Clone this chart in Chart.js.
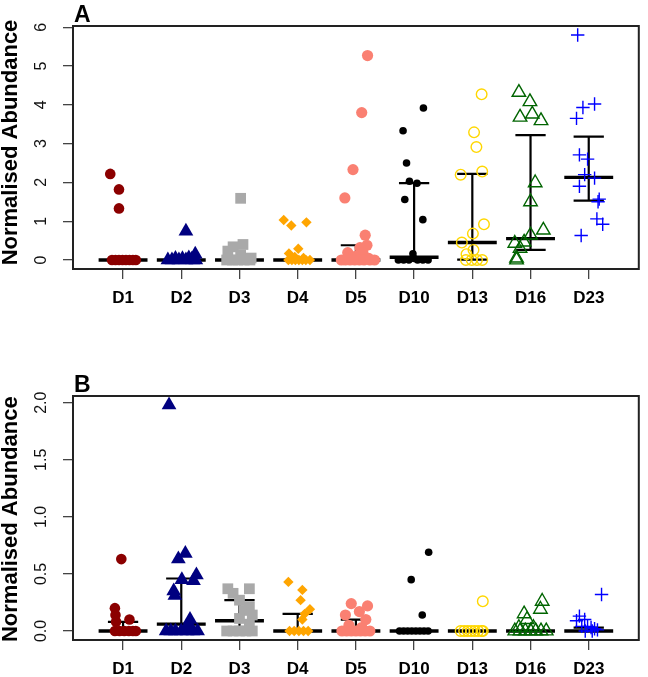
<!DOCTYPE html>
<html>
<head>
<meta charset="utf-8">
<title>Normalised Abundance</title>
<script src="https://cdn.jsdelivr.net/npm/chart.js@4.4.1/dist/chart.umd.min.js"></script>
<style>
body{margin:0;background:#fff;}
canvas{position:absolute;left:0;}
#chartA{top:0;}
#chartB{top:338px;}
</style>
</head>
<body>
<canvas id="chartA" width="648" height="338"></canvas>
<canvas id="chartB" width="648" height="339"></canvas>
<script>
// days on the x axis
const days = ['D1','D2','D3','D4','D5','D10','D13','D16','D23'];

// y tick labels
const yTicksA = [0, 1, 2, 3, 4, 5, 6];
const yTicksB = [0, 0.5, 1, 1.5, 2];

// panel A values (and horizontal jitter, in category units)
const aD1  = [2.22, 1.82, 1.33, 0, 0, 0, 0, 0, 0, 0, 0];
const aD1j = [-0.22, -0.07, -0.07, -0.19, -0.13, -0.07, -0.01, 0.05, 0.11, 0.17, 0.22];
const aD2  = [0.74, 0.15, 0.05, 0.04, 0.03, 0.02, 0, 0, 0, 0, 0, 0];
const aD2j = [0.08, 0.24, 0.13, -0.1, 0.02, 0.18, -0.23, -0.16, -0.04, 0.08, 0.2, 0.25];
const aD3  = [1.59, 0.40, 0.34, 0.23, 0.13, 0.05, 0, 0, 0, 0, 0];
const aD3j = [0.02, 0.06, -0.11, -0.2, 0.02, 0.2, -0.22, -0.12, -0.03, 0.08, 0.18];
const aD4  = [1.03, 0.89, 0.97, 0.29, 0.17, 0.08, 0.05, 0, 0, 0, 0, 0, 0, 0];
const aD4j = [-0.24, -0.11, 0.15, 0.01, -0.15, -0.05, 0.1, -0.16, -0.1, -0.04, 0.02, 0.08, 0.14, 0.21];
const aD5  = [5.27, 3.8, 2.33, 1.6, 0.64, 0.38, 0.32, 0.19, 0.19, 0.1, 0.06, 0.04, 0, 0, 0, 0, 0, 0, 0, 0];
const aD5j = [0.2, 0.1, -0.05, -0.19, 0.16, 0.19, 0.07, -0.14, 0.12, 0.0, -0.08, 0.22, -0.25, -0.18, -0.1, -0.02, 0.06, 0.14, 0.24, 0.32];
const aD10  = [3.92, 3.33, 2.5, 2.03, 1.98, 1.56, 1.04, 0.16, 0.04, 0, 0, 0, 0, 0, 0];
const aD10j = [0.16, -0.19, -0.13, -0.08, 0.05, -0.16, 0.15, -0.02, 0.0, -0.27, -0.18, -0.09, 0.06, 0.15, 0.24];
const aD13  = [4.27, 3.29, 2.91, 2.2, 2.28, 0.92, 0.68, 0.45, 0.26, 0.15, 0, 0, 0, 0];
const aD13j = [0.16, 0.03, 0.07, -0.2, 0.17, 0.2, 0.01, -0.18, 0.02, -0.1, -0.11, -0.01, 0.08, 0.17];
const aD16  = [4.32, 4.08, 3.68, 3.76, 3.59, 1.99, 1.5, 0.77, 0.64, 0.46, 0.43, 0.3, 0.05, 0];
const aD16j = [-0.2, -0.01, -0.18, 0.03, 0.18, 0.08, 0, 0.22, 0, -0.11, -0.27, -0.18, -0.24, -0.24];
const aD23  = [5.8, 4.02, 3.93, 3.65, 2.71, 2.6, 2.2, 2.11, 1.9, 1.57, 1.5, 1.06, 0.92, 0.63];
const aD23j = [-0.19, 0.1, -0.1, -0.21, -0.16, -0.02, -0.07, 0.1, -0.16, 0.18, 0.16, 0.14, 0.24, -0.13];

// panel A median and interquartile range
const medA = [0, 0, 0, 0, 0, 0.07, 0.45, 0.55, 2.13];
const q1A  = [0, 0, 0, 0, 0, 0, 0.01, 0.26, 1.53];
const q3A  = [0, 0, 0, 0, 0.38, 1.98, 2.22, 3.22, 3.18];

// panel B values
const bD1  = [0.63, 0.2, 0.14, 0.1, 0.08, 0, 0, 0, 0, 0, 0];
const bD1j = [-0.03, -0.14, -0.13, 0.11, -0.12, -0.14, -0.06, 0.02, 0.1, 0.17, 0.22];
const bD2  = [1.98, 0.68, 0.63, 0.49, 0.45, 0.44, 0.35, 0.31, 0.1, 0.06, 0, 0, 0, 0, 0, 0, 0];
const bD2j = [-0.21, 0.07, -0.05, 0.26, 0.01, 0.21, -0.13, -0.11, 0.15, 0.12, -0.26, -0.18, -0.1, 0.0, 0.1, 0.2, 0.28];
const bD3  = [0.37, 0.37, 0.33, 0.27, 0.21, 0.18, 0.14, 0.11, 0.06, 0, 0, 0, 0, 0];
const bD3j = [0.17, -0.2, -0.11, 0, 0.17, 0.08, 0.22, 0, 0.17, -0.22, -0.11, 0, 0.11, 0.22];
const bD4  = [0.43, 0.36, 0.27, 0.19, 0.15, 0.1, 0, 0, 0, 0, 0];
const bD4j = [-0.16, 0.08, 0.05, 0.21, 0.12, 0.08, -0.14, -0.06, 0.02, 0.1, 0.18];
const bD5  = [0.24, 0.22, 0.17, 0.14, 0.1, 0.05, 0.03, 0, 0, 0, 0, 0, 0, 0];
const bD5j = [-0.08, 0.2, 0.06, -0.18, 0.17, -0.12, 0.1, -0.24, -0.16, -0.08, 0.0, 0.08, 0.16, 0.24];
const bD10  = [0.69, 0.45, 0.14, 0, 0, 0, 0, 0, 0, 0, 0];
const bD10j = [0.25, -0.05, 0.14, -0.25, -0.18, -0.11, -0.04, 0.03, 0.1, 0.17, 0.24];
const bD13  = [0.26, 0, 0, 0, 0, 0, 0, 0, 0];
const bD13j = [0.18, -0.2, -0.14, -0.08, -0.02, 0.04, 0.1, 0.16, 0.18];
const bD16  = [0.26, 0.19, 0.15, 0.1, 0.03, 0.03, 0, 0, 0, 0, 0, 0, 0];
const bD16j = [0.2, 0.17, -0.11, -0.06, -0.2, 0.05, -0.27, -0.18, -0.09, 0.0, 0.09, 0.18, 0.27];
const bD23  = [0.32, 0.13, 0.1, 0.09, 0.04, 0.04, 0.03, 0.02, 0.01, 0, 0];
const bD23j = [0.22, -0.16, -0.07, -0.21, -0.12, -0.02, 0.04, 0.1, 0.15, -0.06, 0.06];

// panel B median and interquartile range
const medB = [0, 0.06, 0.09, 0, 0, 0, 0, 0, 0];
const q1B  = [0, 0, 0, 0, 0, 0, 0, 0, 0];
const q3B  = [0.08, 0.46, 0.27, 0.15, 0.1, 0, 0, 0, 0.03];

// marker look per day
const marks = [
  {style:'circle',   r:5.3, color:'#8B0000', filled:true},
  {style:'triangle', r:8.5, color:'#000080', filled:true},
  {style:'rect',     r:7.6, color:'#A9A9A9', filled:true},
  {style:'rectRot',  r:5.2, color:'#FFA500', filled:true},
  {style:'circle',   r:5.6, color:'#FA8072', filled:true},
  {style:'circle',   r:3.8, color:'#000000', filled:true},
  {style:'circle',   r:5.3, color:'#FFD700', filled:false},
  {style:'triangle', r:7.8, color:'#006400', filled:false},
  {style:'cross',    r:6.7, color:'#0000FF', filled:false}
];

Chart.defaults.font.family = '"Liberation Sans", Arial, sans-serif';

const MED_HALF = 0.42, Q_HALF = 0.26;

function segs(list){
  // list of [x1,y1,x2,y2] -> data with gaps
  const out = [];
  list.forEach(s => {
    out.push({x:s[0], y:s[1]}, {x:s[2], y:s[3]}, {x:s[2], y:null});
  });
  return out;
}

function lineSet(data, width){
  return {
    type:'scatter', data:data, showLine:true, spanGaps:false,
    borderColor:'#000', borderWidth:width, pointRadius:0,
    order:5, clip:false
  };
}

const textPlugin = {
  id:'panelText',
  afterDraw(chart, args, opts){
    const ctx = chart.ctx, a = chart.chartArea, ys = chart.scales.y;
    ctx.save();
    ctx.strokeStyle = '#222';
    ctx.lineWidth = 2;
    ctx.strokeRect(a.left, a.top, a.right - a.left, a.bottom - a.top);
    // rotated y tick labels
    ctx.fillStyle = '#111';
    ctx.font = '16px "Liberation Sans", Arial, sans-serif';
    ctx.textAlign = 'center';
    ctx.textBaseline = 'middle';
    opts.ticks.forEach(v => {
      ctx.save();
      ctx.translate(42, ys.getPixelForValue(v));
      ctx.rotate(-Math.PI / 2);
      ctx.fillText(opts.fmt(v), 0, 0);
      ctx.restore();
    });
    // y title
    ctx.save();
    ctx.font = 'bold 22px "Liberation Sans", Arial, sans-serif';
    ctx.fillStyle = '#000';
    ctx.translate(11, opts.titleY);
    ctx.rotate(-Math.PI / 2);
    ctx.fillText('Normalised Abundance', 0, 0);
    ctx.restore();
    // panel letter
    ctx.font = 'bold 23px "Liberation Sans", Arial, sans-serif';
    ctx.textAlign = 'left';
    ctx.textBaseline = 'alphabetic';
    ctx.fillStyle = '#000';
    ctx.fillText(opts.letter, 74, opts.letterY);
    ctx.restore();
  }
};

function makePanel(id, letter, groups, jitters, med, q1, q3, yMin, yMax, yTicks, fmt, padTop, xHeight, titleY, letterY){
  const datasets = [];
  const medSegs = [], qSegs = [], vSegs = [];
  days.forEach((d, i) => {
    const c = i + 1;
    medSegs.push([c - MED_HALF, med[i], c + MED_HALF, med[i]]);
    qSegs.push([c - Q_HALF, q1[i], c + Q_HALF, q1[i]]);
    qSegs.push([c - Q_HALF, q3[i], c + Q_HALF, q3[i]]);
    vSegs.push([c, q1[i], c, q3[i]]);
  });
  datasets.push(lineSet(segs(vSegs), 2.2));
  datasets.push(lineSet(segs(qSegs), 2.2));
  datasets.push(lineSet(segs(medSegs), 3.4));

  groups.forEach((vals, i) => {
    const m = marks[i];
    datasets.push({
      type:'scatter',
      label:days[i],
      data: vals.map((v, k) => ({x: i + 1 + jitters[i][k], y: v})),
      pointStyle: m.style,
      pointRadius: m.r,
      backgroundColor: m.filled ? m.color : 'rgba(0,0,0,0)',
      borderColor: m.color,
      borderWidth: m.filled ? 0 : 1.4,
      order:1,
      clip:false
    });
  });

  return new Chart(document.getElementById(id), {
    type:'scatter',
    data:{datasets:datasets},
    plugins:[textPlugin],
    options:{
      responsive:false,
      animation:false,
      events:[],
      layout:{padding:{top:padTop, right:1.3, left:0, bottom:0}},
      plugins:{
        legend:{display:false},
        tooltip:{enabled:false},
        panelText:{letter:letter, ticks:yTicks, fmt:fmt, titleY:titleY, letterY:letterY}
      },
      scales:{
        x:{
          type:'linear', min:0.14, max:9.86,
          afterBuildTicks: s => { s.ticks = days.map((d, i) => ({value: i + 1})); },
          afterFit: s => { s.height = xHeight; },
          ticks:{
            callback: v => days[v - 1],
            autoSkip:false, maxRotation:0, minRotation:0,
            padding:9, color:'#000',
            font:{size:17, weight:'bold'}
          },
          grid:{drawOnChartArea:false, drawTicks:true, tickLength:10, color:'#444', lineWidth:1.3},
          border:{display:false}
        },
        y:{
          type:'linear', min:yMin, max:yMax,
          afterBuildTicks: s => { s.ticks = yTicks.map(v => ({value:v})); },
          afterFit: s => { s.width = 73; },
          ticks:{color:'rgba(0,0,0,0)', font:{size:16}},
          grid:{drawOnChartArea:false, drawTicks:true, tickLength:10, color:'#444', lineWidth:1.3},
          border:{display:false}
        }
      }
    }
  });
}

makePanel('chartA', 'A',
  [aD1, aD2, aD3, aD4, aD5, aD10, aD13, aD16, aD23],
  [aD1j, aD2j, aD3j, aD4j, aD5j, aD10j, aD13j, aD16j, aD23j],
  medA, q1A, q3A, -0.232, 6.032, yTicksA, v => String(v), 26, 69, 142.5, 22);

makePanel('chartB', 'B',
  [bD1, bD2, bD3, bD4, bD5, bD10, bD13, bD16, bD23],
  [bD1j, bD2j, bD3j, bD4j, bD5j, bD10j, bD13j, bD16j, bD23j],
  medB, q1B, q3B, -0.079, 2.059, yTicksB, v => v.toFixed(1), 58, 37, 181.2, 54);
</script>
</body>
</html>
